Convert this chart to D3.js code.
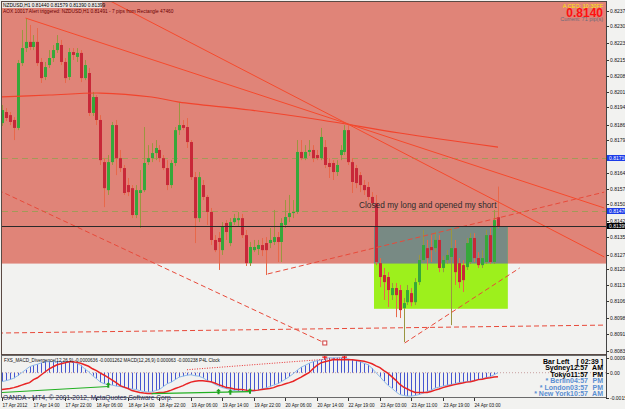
<!DOCTYPE html>
<html>
<head>
<meta charset="utf-8">
<script src="https://cdn.jsdelivr.net/npm/d3@7"></script>
<style>
body { margin: 0; background: #fff; }
svg { display: block; font-family: "Liberation Sans", Arial, sans-serif; }
</style>
</head>
<body>
<svg id="chart" width="625" height="409"></svg>
<script>
// NZDUSD H1, prices in points (1e-5)
var open = [81867,81917,81903,81881,81845,82139,82207,82235,82212,82235,
  82144,82076,82130,82162,82198,82221,82144,82076,82189,82167,
  82185,82071,82094,81913,81985,81881,81690,81563,81690,81858,
  81708,81663,81586,81572,81450,81550,81563,81690,81708,81731,
  81745,81708,81663,81586,81686,81835,81858,81849,81781,81622,
  81436,81586,81532,81464,81337,81346,81291,81414,81323,81418,
  81427,81436,81359,81232,81291,81296,81314,81323,81323,81328,
  81350,81328,81405,81441,81459,81464,81736,81708,81736,81745,
  81722,81708,81758,81686,81686,81645,81722,81736,81835,81690,
  81663,81631,81586,81577,81532,81504,81232,81178,81169,81087,
  81119,81110,81028,81055,81096,81055,81146,81246,81300,81305,
  81300,81337,81210,81246,81260,81300,81232,81223,81214,81237,
  81346,81255,81223,81237,81359,81237,81440];
var high = [81949,81935,81917,81894,82153,82289,82343,82312,82266,82298,
  82162,82144,82198,82221,82266,82244,82162,82207,82207,82207,
  82198,82153,82117,82008,81994,81903,81708,81722,81872,81881,
  81745,81677,81618,81586,81586,81654,81849,81767,81776,81790,
  81767,81722,81699,81699,81849,81962,81881,81890,81790,81645,
  81645,81609,81541,81482,81359,81373,81418,81427,81436,81455,
  81464,81455,81382,81328,81337,81337,81346,81350,81391,81473,
  81373,81436,81518,81541,81518,81790,81790,81767,81790,81767,
  81745,81845,81790,81708,81699,81699,81767,81858,81858,81708,
  81677,81645,81609,81600,81554,81541,81255,81210,81191,81142,
  81142,81133,81074,81133,81119,81164,81269,81382,81337,81359,
  81373,81359,81264,81291,81391,81337,81255,81246,81346,81368,
  81368,81282,81291,81382,81391,81473,81579];
var low = [81854,81876,81858,81790,81835,82126,82189,82198,82198,82126,
  82049,82062,82117,82144,82185,82130,82049,82062,82153,82144,
  82053,82062,81899,81899,81858,81677,81486,81541,81677,81631,
  81645,81541,81536,81436,81436,81391,81554,81677,81690,81699,
  81690,81654,81563,81572,81672,81813,81835,81754,81609,81323,
  81418,81518,81405,81314,81282,81201,81269,81337,81309,81405,
  81400,81346,81219,81219,81282,81269,81264,81178,81300,81314,
  81237,81237,81391,81418,81436,81455,81699,81699,81718,81690,
  81699,81699,81663,81618,81609,81627,81699,81722,81677,81550,
  81572,81554,81541,81518,81495,81223,81123,81065,81033,81065,
  80987,80983,80874,81042,81037,81042,81133,81237,81201,81237,
  81282,81191,81191,81228,80951,81133,81119,81101,81201,81228,
  81237,81210,81210,81228,81228,81228,81390];
var close = [81926,81890,81872,81845,82139,82207,82235,82212,82235,82139,
  82071,82121,82162,82198,82230,82144,82071,82189,82176,82185,
  82071,82130,81913,81985,81881,81699,81572,81690,81858,81708,
  81663,81550,81554,81450,81563,81563,81686,81708,81731,81754,
  81708,81663,81586,81686,81835,81858,81845,81781,81622,81436,
  81622,81532,81464,81337,81291,81328,81396,81373,81418,81436,
  81436,81359,81232,81305,81305,81314,81291,81291,81337,81350,
  81328,81414,81441,81459,81464,81736,81708,81736,81745,81708,
  81708,81804,81677,81668,81645,81677,81745,81835,81690,81600,
  81595,81586,81563,81532,81504,81237,81169,81146,81110,81119,
  81087,81019,81051,81110,81055,81146,81246,81314,81255,81291,
  81337,81210,81246,81269,81300,81191,81146,81155,81323,81346,
  81255,81223,81255,81359,81237,81427,81399];

// MACD subwindow, values in 1e-5
var macdHist = [-57,-51,-44,-35,-19,0,19,38,47,54,
  63,70,70,70,70,70,70,70,70,60,
  47,25,6,-19,-38,-60,-70,-76,-79,-85,
  -88,-95,-101,-104,-107,-114,-120,-123,-123,-114,
  -107,-88,-70,-60,-44,-28,-22,-16,-13,-19,
  -22,-32,-47,-60,-73,-85,-95,-101,-107,-114,
  -117,-120,-120,-120,-117,-111,-104,-98,-88,-79,
  -70,-57,-41,-25,-6,16,35,47,60,70,
  76,82,88,95,95,95,95,92,88,82,
  76,70,60,51,28,0,-25,-54,-79,-98,
  -120,-139,-145,-149,-149,-145,-139,-130,-120,-111,
  -98,-92,-85,-79,-76,-70,-63,-60,-57,-54,
  -51,-44,-38,-32,-25,-13,0];
var macdSignal = [-107,-104,-101,-95,-88,-79,-70,-63,-44,-32,
  -13,6,25,38,51,57,63,70,70,66,
  60,51,41,25,13,-3,-16,-32,-47,-63,
  -82,-92,-101,-114,-120,-126,-130,-133,-133,-130,
  -126,-126,-120,-111,-101,-92,-82,-70,-60,-54,
  -51,-51,-54,-57,-66,-76,-85,-95,-98,-104,
  -107,-107,-111,-114,-114,-111,-107,-104,-101,-95,
  -85,-79,-70,-63,-54,-41,-28,-13,0,25,
  47,63,70,76,82,82,82,82,82,82,
  79,76,73,66,57,44,32,13,-3,-25,
  -47,-73,-92,-104,-117,-126,-126,-126,-126,-120,
  -111,-104,-95,-88,-82,-76,-70,-66,-60,-57,
  -51,-44,-41,-35,-32,-28,-25];
var bullDivLines = [[[0,-126],[27,-88]], [[38,-133],[63,-120]]];
var bullArrows = [[27,-80],[55,-122],[58,-124],[63,-118]];
var bearDivLine = [[47,19],[87,95]];
var bearMarks = [[82,100],[87,100]];

// time axis: one label every 8 bars
var timeLabels = ["17 Apr 2012","17 Apr 14:00","17 Apr 22:00","18 Apr 06:00","18 Apr 14:00",
  "18 Apr 22:00","19 Apr 06:00","19 Apr 14:00","19 Apr 22:00","20 Apr 06:00","20 Apr 14:00",
  "22 Apr 19:00","23 Apr 03:00","23 Apr 11:00","23 Apr 19:00","24 Apr 03:00"];
var priceTicks = [82375,82305,82230,82155,82080,82010,81940,81860,81790,81715,81640,
  81570,81500,81425,81350,81270,81205,81135,81060,80985,80910,80835];

// objects: [bar, price]
var maCurve = [[-1,81985],[12,81994],[25,82003],[38,81985],[45,81962],[63,81926],[81,81881],[101,81822],[126,81758]];
var trendLines = [[[6,82343],[153,81482]], [[27,82425],[153,81260]]];
var dashLines = [[[67.5,81183],[153,81554]], [[-1,81563],[82,80870]], [[-1,80915],[153,80951]], [[102.3,80870],[131.5,81210]]];
var orderLevels = [81710, 81470];
var redZone = {from: -5, to: 160, low: 81230, high: 82600};
var greenZone = {from: 94.5, to: 128.5, low: 81025, high: 81400};

var svg = d3.select('#chart');
var x = d3.scaleLinear().domain([0, 126]).range([2, 498]);
var y = d3.scaleLinear().domain([80820, 82425]).range([354, 0]);
var ym = d3.scaleLinear().domain([-158, 97]).range([397.5, 357.5]);
var fmt = function(v) { return (v / 1e5).toFixed(5); };

var defs = svg.append('defs');
defs.append('clipPath').attr('id', 'mainClip').append('rect')
  .attr('x', 2).attr('y', 2).attr('width', 604).attr('height', 352);
defs.append('clipPath').attr('id', 'macdClip').append('rect')
  .attr('x', 2).attr('y', 356).attr('width', 604).attr('height', 41);

// backgrounds
svg.append('rect').attr('width', 625).attr('height', 409).attr('fill', '#f2f2f0');

var main = svg.append('g').attr('clip-path', 'url(#mainClip)');

function zoneRect(z, fill) {
  main.append('rect')
    .attr('x', x(z.from)).attr('y', y(z.high))
    .attr('width', x(z.to) - x(z.from)).attr('height', y(z.low) - y(z.high))
    .attr('fill', fill);
}
zoneRect(redZone, '#e08478');
zoneRect(greenZone, '#9df01c');
zoneRect({from: Math.max(redZone.from, greenZone.from), to: Math.min(redZone.to, greenZone.to),
  low: Math.max(redZone.low, greenZone.low), high: Math.min(redZone.high, greenZone.high)}, '#788a84');

// order levels
main.selectAll('.lvl').data(orderLevels).enter().append('line')
  .attr('x1', 2).attr('x2', 606)
  .attr('y1', function(d) { return Math.round(y(d)) + 0.5; })
  .attr('y2', function(d) { return Math.round(y(d)) + 0.5; })
  .attr('stroke', '#a29a58').attr('stroke-dasharray', '6,4');

// candles
var idx = d3.range(open.length);
var candle = main.selectAll('.c').data(idx).enter().append('g');
candle.append('line')
  .attr('x1', function(i) { return Math.round(x(i)) + 0.5; })
  .attr('x2', function(i) { return Math.round(x(i)) + 0.5; })
  .attr('y1', function(i) { return y(high[i]); })
  .attr('y2', function(i) { return y(low[i]); })
  .attr('stroke', function(i) { return close[i] >= open[i] ? '#9a9640' : '#e8684a'; });
candle.append('rect')
  .attr('x', function(i) { return Math.round(x(i)) - 1; })
  .attr('y', function(i) { return y(Math.max(open[i], close[i])); })
  .attr('width', 3)
  .attr('height', function(i) { return Math.max(1, Math.abs(y(open[i]) - y(close[i]))); })
  .attr('fill', function(i) { return close[i] >= open[i] ? '#36a83a' : '#c82838'; });

// moving average and trend lines
var line = d3.line().x(function(d) { return x(d[0]); }).y(function(d) { return y(d[1]); });
main.append('path').attr('d', line.curve(d3.curveCatmullRom)(maCurve))
  .attr('fill', 'none').attr('stroke', '#f2442c').attr('stroke-width', 1.1);
line.curve(d3.curveLinear);
main.selectAll('.tl').data(trendLines).enter().append('path')
  .attr('d', line).attr('fill', 'none').attr('stroke', '#f64a2c').attr('stroke-width', 1);
main.selectAll('.dl').data(dashLines).enter().append('path')
  .attr('d', line).attr('fill', 'none').attr('stroke', '#e84a3a').attr('stroke-width', 1)
  .attr('stroke-dasharray', '5,3');
var sq = dashLines[1][1];
main.append('rect').attr('x', x(sq[0]) - 2).attr('y', y(sq[1]) - 2).attr('width', 4).attr('height', 4)
  .attr('fill', '#fff').attr('stroke', '#d04040');

// bid line
var last = close[close.length - 1];
main.append('line').attr('x1', 2).attr('x2', 606)
  .attr('y1', Math.round(y(last)) + 0.5).attr('y2', Math.round(y(last)) + 0.5)
  .attr('stroke', '#2a2a2a');

// texts on chart
main.append('rect').attr('x', 2).attr('y', 2).attr('width', 100).attr('height', 6).attr('fill', '#ece6e4');
main.append('text').attr('x', 3).attr('y', 7).attr('font-size', 4.8).attr('fill', '#000')
  .text('NZDUSD,H1  ' + fmt(open[126]) + ' ' + fmt(high[126]) + ' ' + fmt(low[126]) + ' ' + fmt(last));
main.append('text').attr('x', 3).attr('y', 12.5).attr('font-size', 4.8).attr('fill', '#6a0000')
  .text('AOX 10017 Alert triggered: NZDUSD,H1 0.81491 - 7 pips from Rectangle 47460');
main.append('text').attr('x', 359).attr('y', 208).attr('font-size', 8.3).attr('fill', '#2c2c2c')
  .text('Closed my long and opened my short');
main.append('text').attr('x', 603).attr('y', 8).attr('text-anchor', 'end').attr('font-size', 5.5)
  .attr('fill', '#ffe800').text('A CEO: 10:30FF');
main.append('text').attr('x', 603).attr('y', 21).attr('text-anchor', 'end').attr('font-size', 5.5)
  .attr('fill', '#6a6a7a').text('Current: 71 pip(s)');
main.append('text').attr('x', 603).attr('y', 17).attr('text-anchor', 'end').attr('font-size', 12)
  .attr('font-weight', 'bold').attr('fill', '#ff1010').text((last / 1e5).toFixed(4));

// price axis
var axis = svg.append('g');
priceTicks.forEach(function(p) {
  var yy = Math.round(y(p)) + 0.5;
  axis.append('line').attr('x1', 606).attr('x2', 609).attr('y1', yy).attr('y2', yy).attr('stroke', '#333');
  axis.append('text').attr('x', 610).attr('y', yy + 1.8).attr('font-size', 5).attr('fill', '#111').text(fmt(p));
});
function priceTag(p, fill) {
  var yy = Math.round(y(p));
  axis.append('rect').attr('x', 607).attr('y', yy - 3).attr('width', 18).attr('height', 6).attr('fill', fill);
  axis.append('text').attr('x', 609).attr('y', yy + 2).attr('font-size', 5).attr('fill', '#fff').text(fmt(p));
}
orderLevels.forEach(function(p) { priceTag(p, '#1c3ce8'); });
priceTag(last, '#000');

// frames
svg.append('rect').attr('x', 1.5).attr('y', 1.5).attr('width', 605).attr('height', 353)
  .attr('fill', 'none').attr('stroke', '#5a4a44');
svg.append('rect').attr('x', 1.5).attr('y', 355.5).attr('width', 605).attr('height', 42)
  .attr('fill', 'none').attr('stroke', '#6a6a6a');

// MACD pane
var sub = svg.append('g').attr('clip-path', 'url(#macdClip)');
sub.append('line').attr('x1', 2).attr('x2', 606).attr('y1', ym(0)).attr('y2', ym(0))
  .attr('stroke', '#c8a0a0').attr('stroke-dasharray', '1,2');
sub.selectAll('.h').data(idx).enter().append('line')
  .attr('x1', function(i) { return Math.round(x(i)) + 0.5; })
  .attr('x2', function(i) { return Math.round(x(i)) + 0.5; })
  .attr('y1', ym(0)).attr('y2', function(i) { return ym(macdHist[i]); })
  .attr('stroke', '#4656d0');
var mline = d3.line().x(function(d, i) { return x(i); }).y(function(d) { return ym(d); });
sub.append('path').attr('d', mline(macdHist)).attr('fill', 'none').attr('stroke', '#8cb8e8').attr('stroke-width', 1);
sub.append('path').attr('d', mline(macdSignal)).attr('fill', 'none').attr('stroke', '#e82424').attr('stroke-width', 1.5);
var pline = d3.line().x(function(d) { return x(d[0]); }).y(function(d) { return ym(d[1]); });
sub.selectAll('.bd').data(bullDivLines).enter().append('path').attr('d', pline)
  .attr('fill', 'none').attr('stroke', '#22b022').attr('stroke-width', 1.2);
sub.append('path').attr('d', pline(bearDivLine)).attr('fill', 'none').attr('stroke', '#e83030')
  .attr('stroke-dasharray', '1,1.5');
bullArrows.forEach(function(a) {
  var ax = x(a[0]), ay = ym(a[1]);
  sub.append('path').attr('d', 'M' + ax + ',' + (ay - 3) + 'l-2.5,2.5h1.5v3h2v-3h1.5z').attr('fill', '#1ea01e');
});
bearMarks.forEach(function(a) {
  var ax = x(a[0]), ay = ym(a[1]);
  sub.append('path').attr('d', 'M' + (ax - 2.5) + ',' + ay + 'h5M' + ax + ',' + (ay - 2.5) + 'v5')
    .attr('stroke', '#ee1010').attr('stroke-width', 1.2);
});
svg.append('text').attr('x', 4).attr('y', 362).attr('font-size', 4.6).attr('fill', '#111')
  .text('FXS_MACD_Divergence(12,26,9) -0.0000636 -0.0001262   MACD(12,26,9) 0.000063 -0.000238   P4L Clock');

// clock
var clockRows = [["Bar Left", "[ 02:39 ]"], ["Sydney12:57", "AM"], ["Tokyo11:57", "PM"],
  ["* Berlin04:57", "PM"], ["* London03:57", "PM"], ["* New York10:57", "AM"]];
clockRows.forEach(function(r, k) {
  var col = k < 3 ? '#000' : '#5a8ed2';
  var by = 363.5 + k * 6.5;
  svg.append('text').attr('x', k === 0 ? 543 : 588).attr('y', by)
    .attr('text-anchor', k === 0 ? 'start' : 'end').attr('font-size', 7).attr('font-weight', 'bold')
    .attr('fill', col).text(r[0]);
  svg.append('text').attr('x', 603).attr('y', by).attr('text-anchor', 'end').attr('font-size', 7)
    .attr('font-weight', 'bold').attr('fill', col).text(r[1]);
});

// MACD axis labels
[[97, '0.000997'], [0, '0.00'], [-158, '-0.00158']].forEach(function(t) {
  var yy = Math.round(ym(t[0])) + 0.5;
  svg.append('line').attr('x1', 606).attr('x2', 609).attr('y1', yy).attr('y2', yy).attr('stroke', '#333');
  svg.append('text').attr('x', 610).attr('y', yy + 1.8).attr('font-size', 5).attr('fill', '#111').text(t[1]);
});

svg.append('text').attr('x', 3).attr('y', 399.5).attr('font-size', 6.6).attr('fill', '#2a2e5a')
  .text('OANDA - MT4, \u00a9 2001-2012, MetaQuotes Software Corp.');

// time axis
timeLabels.forEach(function(t, k) {
  var tx = Math.round(x(k * 8)) + 0.5;
  svg.append('line').attr('x1', tx).attr('x2', tx).attr('y1', 398).attr('y2', 401).attr('stroke', '#333');
  svg.append('text').attr('x', tx).attr('y', 406.5).attr('font-size', 4.6).attr('fill', '#111').text(t);
});
svg.append('line').attr('x1', 606.5).attr('x2', 606.5).attr('y1', 1).attr('y2', 398).attr('stroke', '#444');
</script>
</body>
</html>
